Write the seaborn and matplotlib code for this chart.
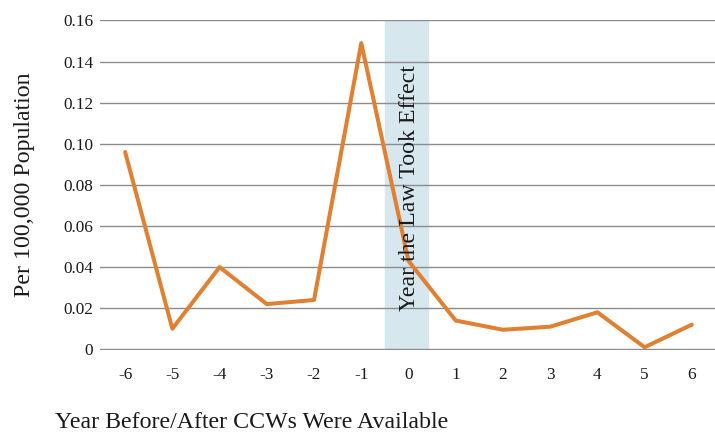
import numpy as np
import pandas as pd
import seaborn as sns
import matplotlib.pyplot as plt

# values
years = [-6, -5, -4, -3, -2, -1, 0, 1, 2, 3, 4, 5, 6]
rate = [0.096, 0.010, 0.040, 0.022, 0.024, 0.149, 0.043, 0.014, 0.0095, 0.011, 0.018, 0.001, 0.012]
yticks = [0, 0.02, 0.04, 0.06, 0.08, 0.10, 0.12, 0.14, 0.16]
ytick_labels = ['0', '0.02', '0.04', '0.06', '0.08', '0.10', '0.12', '0.14', '0.16']

df = pd.DataFrame({'Year': years, 'Rate': rate})

sns.set_style("white")
plt.rcParams['font.family'] = ['Liberation Serif', 'DejaVu Serif']

fig = plt.figure(figsize=(7.15, 4.32), dpi=100)
ax = fig.add_axes([0.14, 0.19, 0.86, 0.764])

# shaded year the law took effect
ax.axvspan(-0.5, 0.42, color='#d6e7ee', zorder=0)

sns.lineplot(data=df, x='Year', y='Rate', color='#e08033', linewidth=2.9, ax=ax,
             zorder=3, clip_on=False)
ax.lines[-1].set_solid_joinstyle('round')

ax.text(0.02, 0.0785, 'Year the Law Took Effect', rotation=90, ha='center', va='center',
        fontsize=17.2, color='#1a1a1a', zorder=4)

ax.set_xlim(-6.53, 6.49)
ax.set_ylim(-0.0003, 0.1603)
ax.set_yticks(yticks)
ax.set_yticklabels(ytick_labels)
ax.set_xticks(years)
ax.set_xticklabels([str(y) for y in years])
ax.tick_params(axis='both', length=0, labelsize=12.4, colors='#1a1a1a')
ax.tick_params(axis='x', pad=12)
ax.tick_params(axis='y', pad=5)
ax.yaxis.grid(True, color='#8c8c8c', linewidth=1.0)
ax.set_axisbelow(True)
for s in ax.spines.values():
    s.set_visible(False)

ax.set_xlabel('')
ax.set_ylabel('Per 100,000 Population', fontsize=17.2, color='#1a1a1a', labelpad=20)
fig.text(55 / 715, 1 - 423 / 432, 'Year Before/After CCWs Were Available',
         fontsize=17.2, color='#1a1a1a', ha='left', va='center')

fig.savefig('out.png', dpi=100)
